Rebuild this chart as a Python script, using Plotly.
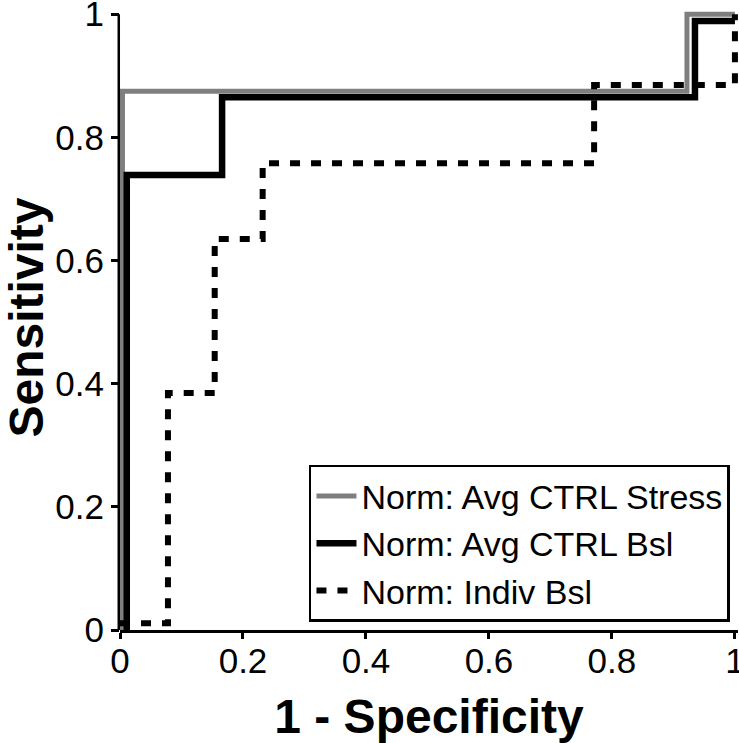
import plotly.graph_objects as go

# ROC step points (1 - specificity, sensitivity)
stress_fpr = [0.004, 0.922, 1.0]
stress_tpr = [0.0, 0.875, 1.0]

ctrl_bsl_fpr = [0.011, 0.166, 0.935, 1.0]
ctrl_bsl_tpr = [0.0, 0.739, 0.865, 0.989]

indiv_fpr = [0.0, 0.078, 0.154, 0.232, 0.771, 1.0]
indiv_tpr = [0.011, 0.385, 0.635, 0.758, 0.885, 1.0]

tick_vals = [0, 0.2, 0.4, 0.6, 0.8, 1.0]
tick_text = ["0", "0.2", "0.4", "0.6", "0.8", "1"]

FONT = "Liberation Sans, Arial, sans-serif"

fig = go.Figure()
fig.add_trace(go.Scatter(x=stress_fpr, y=stress_tpr, mode="lines", line_shape="vh",
                         name="Norm: Avg CTRL Stress",
                         line=dict(color="#7f7f7f", width=5)))
fig.add_trace(go.Scatter(x=ctrl_bsl_fpr, y=ctrl_bsl_tpr, mode="lines", line_shape="vh",
                         name="Norm: Avg CTRL Bsl",
                         line=dict(color="#000000", width=6.5)))
fig.add_trace(go.Scatter(x=indiv_fpr, y=indiv_tpr, mode="lines", line_shape="hv",
                         name="Norm: Indiv Bsl",
                         line=dict(color="#000000", width=6, dash="10px,11px")))

# y axis line from 0 to 1
fig.add_shape(type="line", xref="paper", yref="y", x0=-0.002, x1=-0.002, y0=0, y1=1,
              line=dict(color="black", width=2.5), layer="above")

fig.update_layout(
    width=739, height=743,
    margin=dict(l=120, r=1, t=5, b=113),
    paper_bgcolor="white", plot_bgcolor="white",
    font=dict(family=FONT, color="black"),
    showlegend=True,
    legend=dict(x=0.987, y=0.013, xanchor="right", yanchor="bottom",
                bgcolor="white", bordercolor="black", borderwidth=2.5,
                font=dict(size=34, family=FONT), tracegroupgap=0,
                itemwidth=40),
    xaxis=dict(range=[0, 1.005], tickvals=tick_vals, ticktext=tick_text,
               showgrid=False, zeroline=False, showline=True, linecolor="black",
               linewidth=2.5, ticks="outside", ticklen=6, tickwidth=2.5, tickcolor="black",
               tickfont=dict(size=35), automargin=False, ticklabeloverflow="allow",
               ticklabelstandoff=-8,
               title=dict(text="<b>1 - Specificity</b>", font=dict(size=48), standoff=22)),
    yaxis=dict(range=[0, 1.015], tickvals=tick_vals, ticktext=tick_text,
               showgrid=False, zeroline=False, showline=False,
               ticks="outside", ticklen=8, tickwidth=2.5, tickcolor="black",
               tickfont=dict(size=35), automargin=False, ticklabeloverflow="allow",
               title=dict(text="<b>Sensitivity</b>", font=dict(size=48), standoff=21)),
)

fig.write_html("out.html", config={"displayModeBar": False},
               post_script="document.body.style.margin='0';")
